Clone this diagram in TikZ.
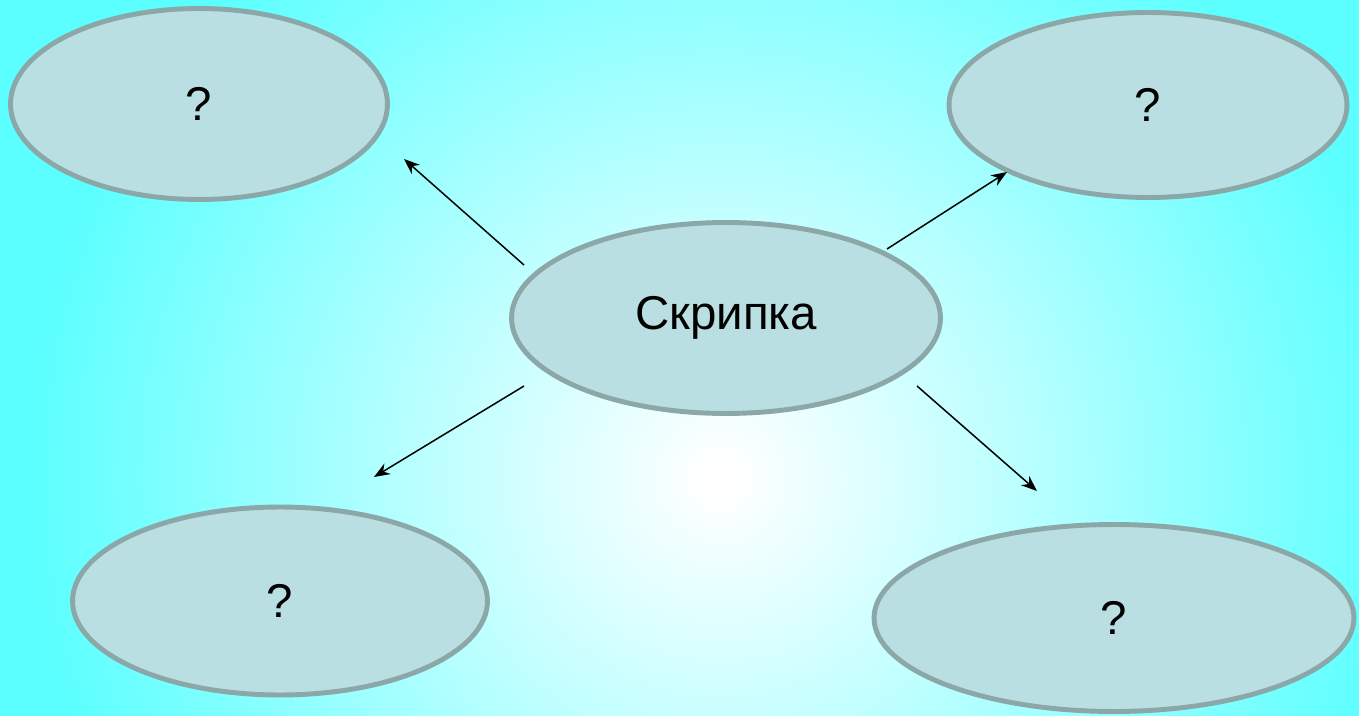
\documentclass[tikz,border=0pt]{standalone}
\usepackage{fontspec}
\setmainfont{Liberation Sans}
\usetikzlibrary{shapes.geometric}
\usetikzlibrary{arrows.meta}

\definecolor{bgCyan}{RGB}{92,255,255}
\definecolor{bubbleFill}{RGB}{185,223,226}
\definecolor{bubbleLine}{RGB}{139,167,168}
% 25bp = half the shaded square (900px), cyan reached at ~690px
\pgfdeclareradialshading{bgGlow}{\pgfpoint{0bp}{0bp}}{%
  color(0bp)=(white); color(0.4bp)=(white); color(19.2bp)=(bgCyan); color(50bp)=(bgCyan)}

\begin{document}
\begin{tikzpicture}[x=0.02cm, y=-0.02cm,
    bubble/.style={ellipse, draw=bubbleLine, fill=bubbleFill, line width=2.8pt,
      inner sep=0pt, font=\fontsize{27}{32}\selectfont},
    link/.style={-{Stealth[length=9pt, width=7pt]}, line width=0.85pt}]
  % background
  \useasboundingbox (0,0) rectangle (1359,716);
  \begin{scope}
    \clip (0,0) rectangle (1359,716);
    \shade[shading=bgGlow] (720-900,478-900) rectangle (720+900,478+900);
  \end{scope}
  % bubbles
  \node[bubble, minimum width=7.54cm, minimum height=3.82cm] at (199,104) (tl) {?};
  \node[bubble, minimum width=7.96cm, minimum height=3.70cm] at (1148,105) (tr) {?};
  \node[bubble, minimum width=8.58cm, minimum height=3.82cm] at (726,318) (c) {Скрипка};
  \node[bubble, minimum width=8.30cm, minimum height=3.76cm] at (280,601) (bl) {?};
  \node[bubble, minimum width=9.60cm, minimum height=3.74cm] at (1114,618) (br) {?};
  % arrow ends
  \coordinate (tlFrom) at (524,265);
  \coordinate (tlTo) at (404,159);
  \coordinate (trFrom) at (887,249);
  \coordinate (trTo) at (1007,172);
  \coordinate (blFrom) at (524,386);
  \coordinate (blTo) at (374,477);
  \coordinate (brFrom) at (917,386);
  \coordinate (brTo) at (1037,491);
  \draw[link] (tlFrom) -- (tlTo);
  \draw[link] (trFrom) -- (trTo);
  \draw[link] (blFrom) -- (blTo);
  \draw[link] (brFrom) -- (brTo);
\end{tikzpicture}
\end{document}
